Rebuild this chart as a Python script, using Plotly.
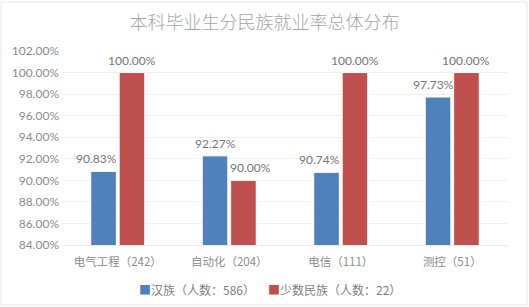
import plotly.graph_objects as go

categories = ["电气工程（242）", "自动化（204）", "电信（111）", "测控（51）"]
han = [90.83, 92.27, 90.74, 97.73]
minority = [100.00, 90.00, 100.00, 100.00]
series_names = ["汉族（人数：586）", "少数民族（人数：22）"]
colors = ["#4F81BD", "#C0504D"]

font_family = "Noto Sans CJK SC, Noto Sans, sans-serif"
num_font = "Lato, Open Sans, sans-serif"

fig = go.Figure()
for name, vals, col in zip(series_names, [han, minority], colors):
    fig.add_trace(go.Bar(
        x=categories, y=vals, name=name,
        marker=dict(color=col, line=dict(color="#FFFFFF", width=1)),
        cliponaxis=False,
    ))

fig.update_layout(
    width=529, height=307,
    margin=dict(l=62, r=21, t=51, b=62),
    paper_bgcolor="white", plot_bgcolor="white",
    font=dict(family=font_family, size=11, color="#7f7f7f"),
    title=dict(text="本科毕业生分民族就业率总体分布", x=0.5, xanchor="center",
               y=0.925, yanchor="middle",
               font=dict(size=18, color="#a6a6a6", family=font_family, weight=300)),
    barmode="group", bargap=0.49, bargroupgap=0.1,
    showlegend=False,
    xaxis=dict(showgrid=False, showline=True, linecolor="#ebebeb", ticks="",
               ticklabelstandoff=6,
               tickfont=dict(size=11.5, color="#8c8c8c")),
    yaxis=dict(range=[84, 102], dtick=2, tick0=84, tickformat=".2f", ticksuffix="%",
               showgrid=True, gridcolor="#f0f0f0", gridwidth=1, zeroline=False,
               showline=False, ticklabelstandoff=2,
               tickfont=dict(size=12, color="#8c8c8c", family=num_font)),
)

# data labels over each bar (small sideways nudges as in the original to avoid overlap)
bar_shift = [-14, 14]
label_nudge = [[-7, 0, -7, -5], [0, 7, 0, 0]]
for vals, dx, nudges in zip([han, minority], bar_shift, label_nudge):
    for cat, v, nd in zip(categories, vals, nudges):
        fig.add_annotation(
            xref="x", yref="y", x=cat, y=v, xshift=dx + nd, yshift=3,
            xanchor="center", yanchor="bottom", showarrow=False,
            text=f"{v:.2f}%",
            font=dict(size=12, color="#767676", family=num_font),
        )

# legend as colored-square labels
legend_x = [0.168, 0.458]
for name, col, lx in zip(series_names, colors, legend_x):
    fig.add_annotation(
        xref="paper", yref="paper", x=lx, y=-0.228, xanchor="left", yanchor="middle",
        showarrow=False,
        text=f"<span style='color:{col}'>■</span>{name}",
        font=dict(size=12, color="#7f7f7f", family=font_family),
    )

fig.add_shape(type="rect", xref="paper", yref="paper",
              x0=-61/446, x1=1 + 19/446, y0=-60/194, y1=1 + 49/194,
              line=dict(color="#e6e6e6", width=1), fillcolor="rgba(0,0,0,0)", layer="below")

fig.write_html("out.html")
